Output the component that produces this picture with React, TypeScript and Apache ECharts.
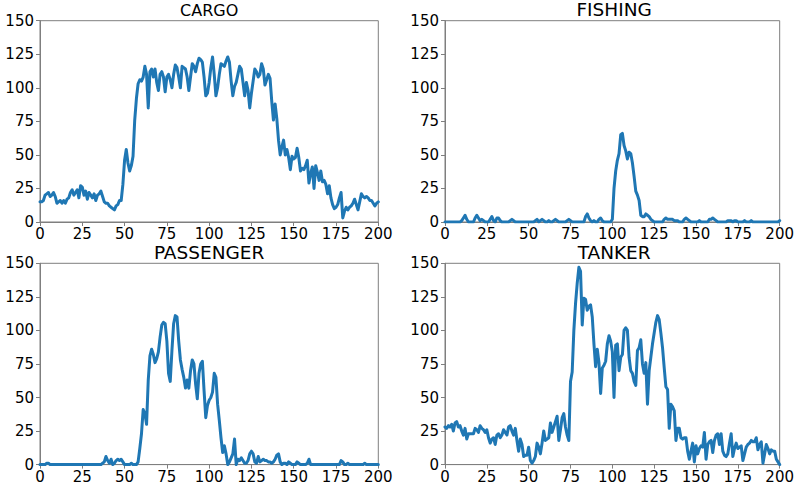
import React, { useEffect, useRef } from "react";
import * as echarts from "echarts";

// x runs 0..200 in steps of 1
const X_STEP = 1;
const titles = ["CARGO", "FISHING", "PASSENGER", "TANKER"];
const xTicks = [0, 25, 50, 75, 100, 125, 150, 175, 200];
const yTicks = [0, 25, 50, 75, 100, 125, 150];

const cargo = [
  15, 15, 16, 20, 21, 22, 19, 20, 22, 19,
  14, 15, 16, 14, 16, 14, 17, 18, 22, 24,
  20, 22, 24, 18, 27, 26, 20, 23, 17, 22,
  20, 18, 21, 16, 20, 21, 23, 19, 15, 14,
  14, 12, 11, 10, 9, 12, 13, 16, 16, 28,
  46, 54, 44, 38, 42, 49, 76, 92, 103, 106,
  105, 108, 116, 110, 85, 112, 114, 108, 114, 104,
  98, 110, 112, 108, 97, 108, 110, 106, 100, 110,
  117, 115, 108, 100, 116, 115, 114, 108, 98, 108,
  118, 116, 112, 118, 122, 121, 119, 108, 94, 96,
  104, 115, 123, 110, 94, 100, 110, 118, 117, 116,
  120, 123, 119, 105, 94, 101, 104, 110, 116, 114,
  104, 94, 104, 98, 85, 96, 105, 114, 112, 108,
  110, 118, 114, 102, 106, 110, 107, 90, 76, 88,
  77, 61, 50, 56, 61, 50, 54, 48, 39, 49,
  47, 48, 55, 48, 38, 40, 39, 42, 46, 29,
  36, 41, 25, 42, 37, 31, 38, 30, 31, 28,
  21, 27, 18, 13, 10, 11, 13, 18, 22, 3,
  8, 11, 9, 11, 12, 14, 17, 13, 9, 15,
  21, 19, 18, 19, 18, 16, 16, 14, 12, 14,
  15,
];

const fishing = [
  0, 0, 0, 0, 0, 0, 0, 0, 0, 0,
  1, 3, 5, 2, 0, 0, 0, 0, 3, 5,
  3, 1, 2, 1, 0, 0, 0, 2, 4, 1,
  0, 3, 3, 1, 0, 0, 0, 0, 0, 1,
  2, 1, 0, 0, 0, 0, 0, 0, 0, 0,
  0, 0, 0, 0, 1, 2, 0, 1, 2, 1,
  0, 0, 1, 0, 0, 1, 2, 1, 0, 0,
  0, 0, 0, 1, 2, 1, 0, 0, 0, 0,
  0, 0, 0, 0, 4, 6, 3, 1, 0, 1,
  0, 0, 2, 3, 1, 0, 0, 0, 0, 0,
  2, 25, 38, 46, 51, 65, 66, 57, 53, 47,
  52, 51, 44, 34, 23, 20, 16, 5, 4, 4,
  6, 5, 4, 2, 1, 0, 0, 0, 0, 0,
  0, 2, 3, 2, 2, 2, 2, 1, 1, 1,
  0, 0, 0, 2, 3, 2, 1, 0, 0, 0,
  0, 0, 1, 0, 0, 0, 0, 0, 2, 2,
  3, 2, 1, 0, 0, 0, 0, 0, 0, 1,
  1, 1, 0, 1, 1, 0, 0, 0, 0, 1,
  0, 0, 0, 1, 0, 0, 0, 0, 0, 0,
  0, 0, 0, 0, 0, 0, 0, 0, 0, 0,
  1,
];

const passenger = [
  0, 0, 0, 0, 1, 1, 0, 0, 0, 0,
  0, 0, 0, 0, 0, 0, 0, 0, 0, 0,
  0, 0, 0, 0, 0, 0, 0, 0, 0, 0,
  0, 0, 0, 0, 0, 0, 0, 1, 2, 6,
  3, 1, 4, 0, 1, 3, 4, 3, 4, 2,
  0, 0, 0, 0, 1, 0, 0, 0, 2, 12,
  23, 41, 38, 30, 63, 81, 86, 82, 76, 79,
  84, 95, 104, 106, 105, 92, 68, 62, 85, 105,
  111, 110, 92, 78, 71, 65, 57, 63, 57, 70,
  78, 75, 60, 49, 68, 75, 77, 55, 35, 44,
  48, 50, 54, 68, 65, 45, 33, 20, 9, 14,
  8, 0, 2, 5, 8, 19, 0, 4, 3, 5,
  3, 1, 1, 3, 8, 10, 8, 2, 1, 6,
  2, 3, 4, 3, 3, 2, 2, 1, 2, 4,
  7, 8, 2, 0, 1, 1, 0, 2, 1, 0,
  0, 0, 2, 1, 0, 0, 0, 0, 1, 4,
  0, 0, 0, 0, 0, 0, 0, 0, 0, 0,
  0, 0, 0, 0, 0, 0, 0, 0, 3, 2,
  0, 0, 1, 0, 0, 0, 0, 0, 0, 0,
  0, 0, 1, 0, 0, 0, 0, 0, 0, 0,
  0,
];

const tanker = [
  28, 27, 29, 28, 30, 25, 31, 32, 28, 29,
  25, 22, 27, 19, 23, 23, 23, 23, 27, 26,
  24, 29, 27, 26, 24, 26, 20, 16, 19, 20,
  15, 22, 23, 20, 22, 26, 24, 22, 28, 29,
  25, 22, 27, 18, 10, 19, 15, 6, 7, 7,
  13, 3, 1, 3, 6, 16, 13, 8, 16, 25,
  18, 19, 20, 31, 24, 28, 32, 36, 18, 26,
  35, 38, 28, 22, 18, 62, 69, 100, 120, 135,
  147, 144, 104, 124, 123, 115, 118, 119, 110, 90,
  73, 86, 76, 53, 72, 74, 77, 90, 96, 92,
  84, 50, 89, 90, 70, 80, 82, 100, 102, 100,
  80, 70, 68, 62, 59, 85, 87, 93, 75, 68,
  76, 45, 70, 80, 90, 98, 106, 111, 108, 98,
  87, 72, 58, 56, 27, 45, 43, 40, 18, 27,
  27, 20, 19, 20, 20, 10, 4, 10, 16, 2,
  14, 8, 12, 14, 13, 24, 4, 15, 17, 18,
  9, 18, 22, 23, 15, 23, 10, 7, 6, 8,
  16, 23, 6, 12, 16, 12, 13, 14, 3, 8,
  13, 15, 16, 18, 17, 17, 20, 11, 15, 17,
  1, 8, 15, 12, 8, 11, 10, 10, 4, 2,
  0,
];

const seriesValues = [cargo, fishing, passenger, tanker];

export default function App() {
  const ref = useRef<HTMLDivElement>(null);

  useEffect(() => {
    if (!ref.current) return;
    const chart = echarts.init(ref.current, undefined, { renderer: "svg" });

    const lefts = [40, 445];
    const tops = [20.7, 263.3];
    const gw = 338.3;
    const gh = 201.3;
    const titleSizes = [16, 18.5, 18.5, 18.5];
    const titleY = [10.8, 9.9, 252.3, 252.8];
    const font = "DejaVu Sans";
    const spine = "#7f7f7f";

    const grids: any[] = [];
    const xAxes: any[] = [];
    const yAxes: any[] = [];
    const series: any[] = [];
    const graphics: any[] = [];

    seriesValues.forEach((vals, i) => {
      const col = i % 2;
      const row = Math.floor(i / 2);
      grids.push({
        left: lefts[col],
        top: tops[row],
        width: gw,
        height: gh,
        show: true,
        borderColor: spine,
        borderWidth: 1,
        backgroundColor: "transparent",
        containLabel: false,
      });
      xAxes.push({
        type: "value",
        gridIndex: i,
        min: xTicks[0],
        max: xTicks[xTicks.length - 1],
        interval: xTicks[1] - xTicks[0],
        axisLine: { show: true, onZero: false, lineStyle: { color: spine, width: 1 } },
        axisTick: { show: true, length: 4, lineStyle: { color: spine, width: 1 } },
        axisLabel: { color: "#000", fontSize: 15, lineHeight: 14, fontFamily: font, margin: 5 },
        splitLine: { show: false },
      });
      yAxes.push({
        type: "value",
        gridIndex: i,
        min: yTicks[0],
        max: yTicks[yTicks.length - 1],
        interval: yTicks[1] - yTicks[0],
        axisLine: { show: true, onZero: false, lineStyle: { color: spine, width: 1 } },
        axisTick: { show: true, length: 4, lineStyle: { color: spine, width: 1 } },
        axisLabel: { color: "#000", fontSize: 15, fontFamily: font, margin: 6 },
        splitLine: { show: false },
      });
      series.push({
        type: "line",
        xAxisIndex: i,
        yAxisIndex: i,
        data: vals.map((v, k) => [k * X_STEP, v]),
        showSymbol: false,
        symbol: "none",
        clip: true,
        lineStyle: { color: "#1f77b4", width: 3, join: "round", cap: "round" },
        itemStyle: { color: "#1f77b4" },
      });
      graphics.push({
        type: "text",
        x: lefts[col] + gw / 2,
        y: titleY[i],
        style: {
          text: titles[i],
          fontSize: titleSizes[i],
          lineHeight: titleSizes[i] - 2,
          fontFamily: font,
          fill: "#000",
          align: "center",
          verticalAlign: "middle",
        },
      });
    });

    chart.setOption({
      animation: false,
      backgroundColor: "#fff",
      grid: grids,
      xAxis: xAxes,
      yAxis: yAxes,
      series,
      graphic: graphics,
    });

    return () => chart.dispose();
  }, []);

  return (
    <div
      ref={ref}
      style={{ position: "fixed", left: 0, top: 0, width: 797, height: 486, background: "#fff" }}
    />
  );
}
